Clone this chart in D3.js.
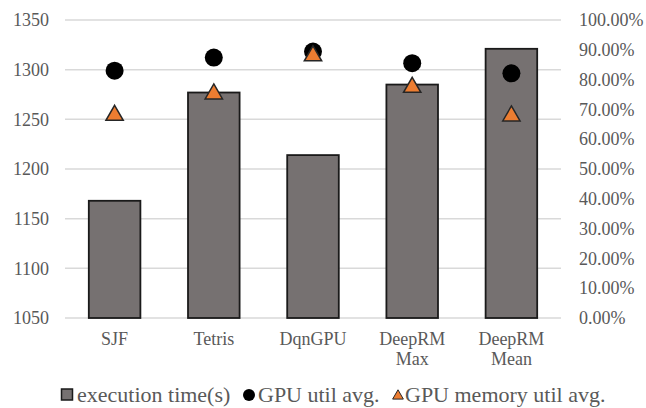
<!DOCTYPE html>
<html>
<head>
<meta charset="utf-8">
<script src="https://cdn.jsdelivr.net/npm/d3@7"></script>
<style>
  html, body { margin: 0; padding: 0; background: #fff; }
  svg { display: block; }
</style>
</head>
<body>
<svg id="chart" width="646" height="408"></svg>
<script>
const categories = [["SJF"], ["Tetris"], ["DqnGPU"], ["DeepRM", "Max"], ["DeepRM", "Mean"]];
const execTime = [1168, 1277, 1214, 1285, 1321];
const gpuUtil = [0.83, 0.874, 0.894, 0.855, 0.821];
const gpuMemUtil = [0.68, 0.752, 0.88, 0.774, 0.678];
const leftTicks = [1050, 1100, 1150, 1200, 1250, 1300, 1350];
const rightTicks = [0, 0.1, 0.2, 0.3, 0.4, 0.5, 0.6, 0.7, 0.8, 0.9, 1.0];
const legendLabels = ["execution time(s)", "GPU util avg.", "GPU memory util avg."];

const FONT = '"Liberation Serif"';
const TXT = "#595959";
const svg = d3.select("#chart");
const m = { left: 65, right: 561, top: 20, bottom: 318 };

const keys = categories.map(c => c.join(" "));
const x = d3.scaleBand().domain(keys).range([m.left, m.right]).paddingInner(0.48).paddingOuter(0.24);
const yL = d3.scaleLinear().domain([1050, 1350]).range([m.bottom, m.top]);
const yR = d3.scaleLinear().domain([0, 1]).range([m.bottom, m.top]);

function styleText(sel, size) {
  sel.style("font-family", FONT).style("font-size", size + "px").style("fill", TXT);
}

// gridlines
svg.append("g").selectAll("line").data(leftTicks).join("line")
  .attr("x1", m.left).attr("x2", m.right)
  .attr("y1", d => yL(d)).attr("y2", d => yL(d))
  .attr("stroke", "#d9d9d9").attr("stroke-width", 1.5);

// left axis
const gl = svg.append("g").attr("transform", "translate(49,0)")
  .call(d3.axisLeft(yL).tickValues(leftTicks).tickSize(0).tickPadding(0).tickFormat(d3.format("d")));
gl.select(".domain").remove();
styleText(gl.selectAll("text"), 18);

// right axis
const gr = svg.append("g").attr("transform", "translate(579,0)")
  .call(d3.axisRight(yR).tickValues(rightTicks).tickSize(0).tickPadding(0).tickFormat(d3.format(".2%")));
gr.select(".domain").remove();
styleText(gr.selectAll("text"), 18);

// bars
svg.append("g").selectAll("rect").data(execTime).join("rect")
  .attr("x", (d, i) => x(keys[i]))
  .attr("width", x.bandwidth())
  .attr("y", d => yL(d))
  .attr("height", d => yL(1050) - yL(d))
  .attr("fill", "#767171").attr("stroke", "#1a1a1a").attr("stroke-width", 1.8);

// GPU util circles
svg.append("g").selectAll("circle").data(gpuUtil).join("circle")
  .attr("cx", (d, i) => x(keys[i]) + x.bandwidth() / 2)
  .attr("cy", d => yR(d))
  .attr("r", 9).attr("fill", "#000");

// GPU memory triangles
const tri = d3.symbol().type(d3.symbolTriangle).size(130);
svg.append("g").selectAll("path").data(gpuMemUtil).join("path")
  .attr("transform", (d, i) => `translate(${x(keys[i]) + x.bandwidth() / 2},${yR(d)})`)
  .attr("d", tri)
  .attr("fill", "#ED7D31").attr("stroke", "#262626").attr("stroke-width", 1.5);

// x labels
const xl = svg.append("g");
categories.forEach((c, i) => {
  const cx = x(keys[i]) + x.bandwidth() / 2;
  const t = xl.append("text").attr("x", cx).attr("y", 345).attr("text-anchor", "middle");
  styleText(t, 18);
  c.forEach((line, j) => {
    t.append("tspan").attr("x", cx).attr("dy", j === 0 ? 0 : 20).text(line);
  });
});

// legend
const lg = svg.append("g").attr("transform", "translate(0,402)");
lg.append("rect").attr("x", 61.5).attr("y", -13).attr("width", 11).attr("height", 11)
  .attr("fill", "#767171").attr("stroke", "#1a1a1a").attr("stroke-width", 1.5);
styleText(lg.append("text").attr("x", 77).attr("y", 0).text(legendLabels[0]), 22);
lg.append("circle").attr("cx", 249).attr("cy", -7).attr("r", 6).attr("fill", "#000");
styleText(lg.append("text").attr("x", 258).attr("y", 0).text(legendLabels[1]), 22);
lg.append("path").attr("transform", "translate(398,-6)").attr("d", d3.symbol().type(d3.symbolTriangle).size(50))
  .attr("fill", "#ED7D31").attr("stroke", "#262626").attr("stroke-width", 1);
styleText(lg.append("text").attr("x", 405).attr("y", 0).text(legendLabels[2]), 22);
</script>
</body>
</html>
